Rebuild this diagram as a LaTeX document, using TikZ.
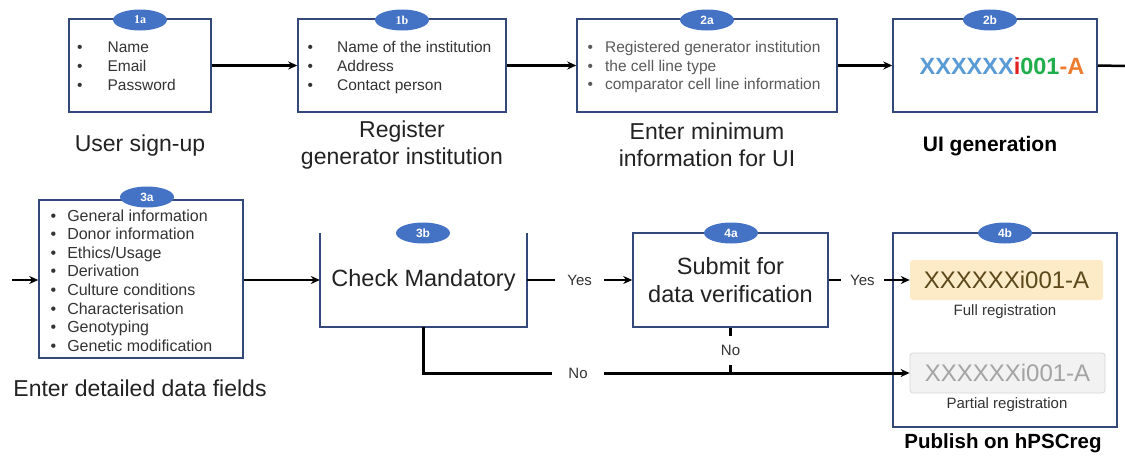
\documentclass[tikz,border=0pt]{standalone}
\usepackage{fontspec}
\setmainfont{Liberation Sans}
\newfontfamily\badgeserif{Liberation Serif}
\usetikzlibrary{shapes.geometric,arrows.meta}

\definecolor{boxline}{HTML}{34497A}
\definecolor{badgeblue}{HTML}{4472C4}
\definecolor{listdark}{HTML}{333333}
\definecolor{listgray}{HTML}{5A5A5A}
\definecolor{titletext}{HTML}{222222}
\definecolor{idblue}{HTML}{5B9BD5}
\definecolor{idred}{HTML}{E0201E}
\definecolor{idgreen}{HTML}{1FAE4B}
\definecolor{idorange}{HTML}{ED7D31}
\definecolor{fullfill}{HTML}{FDEBC8}
\definecolor{fulltext}{HTML}{5C481A}
\definecolor{partfill}{HTML}{F2F2F2}
\definecolor{partline}{HTML}{D6D6D6}
\definecolor{parttext}{HTML}{A3A3A3}

\newcommand{\fsz}[2]{\fontsize{#1}{#2}\selectfont}

\begin{document}
\begin{tikzpicture}[x=1pt,y=-1pt,
  stepbox/.style={draw=boxline, line width=1.5pt, fill=white, inner sep=0pt},
  openbox/.style={draw=none, inner sep=0pt},
  badge/.style={ellipse, fill=badgeblue, draw=none, minimum width=54pt,
    minimum height=21pt, inner sep=0pt, text=white, font=\fsz{12}{12}\bfseries},
  bulletlist/.style={anchor=west, inner sep=0pt, align=left},
  title/.style={text=titletext, align=center, font=\fsz{23}{27}},
  boldtitle/.style={text=black, align=center, font=\fsz{21}{25}\bfseries},
  flow/.style={draw=black, line width=2.5pt, -{Stealth[length=9pt,width=8pt]}},
  plain/.style={draw=black, line width=2.5pt},
  lbl/.style={fill=white, text=listdark, font=\fsz{15}{15}, inner ysep=2pt},
  idbox/.style={rounded corners=3pt, minimum width=193pt, minimum height=40pt,
    inner sep=0pt, font=\fsz{24}{24}},
]
\useasboundingbox (0,0) rectangle (1125,463);
\fill[white] (0,0) rectangle (1125,463);

% ---- first row: boxes ----
\node[stepbox, minimum width=142pt, minimum height=93pt] (b1a) at (140,65.5) {};
\node[stepbox, minimum width=208pt, minimum height=93pt] (b1b) at (402,65.5) {};
\node[stepbox, minimum width=260pt, minimum height=93pt] (b2a) at (707,65.5) {};
\node[stepbox, minimum width=204pt, minimum height=93pt] (b2b) at (995,65.5) {};

% ---- first row: contents ----
\node[bulletlist, text=listdark, font=\fsz{15.5}{19}] (l1a) at (77,67.5)
  {\begin{tabular}{@{}l@{\hspace{25pt}}l@{}}
   \textbullet & Name\\ \textbullet & Email\\ \textbullet & Password
   \end{tabular}};
\node[bulletlist, text=listdark, font=\fsz{15.5}{19}] (l1b) at (307.5,67.5)
  {\begin{tabular}{@{}l@{\hspace{24pt}}l@{}}
   \textbullet & Name of the institution\\ \textbullet & Address\\ \textbullet & Contact person
   \end{tabular}};
\node[bulletlist, text=listgray, font=\fsz{15.5}{18.5}] (l2a) at (587.5,67.5)
  {\begin{tabular}{@{}l@{\hspace{12pt}}l@{}}
   \textbullet & Registered generator institution\\ \textbullet & the cell line type\\
   \textbullet & comparator cell line information
   \end{tabular}};
\node[inner sep=0pt, font=\fsz{23.5}{23.5}\bfseries] (id2b) at (1002,66)
  {\textcolor{idblue}{XXXXXX}\textcolor{idred}{i}\textcolor{idgreen}{001}\textcolor{idorange}{-A}};

% ---- first row: badges ----
\node[badge, font=\fsz{12}{12}\bfseries\badgeserif] (n1a) at (140,20) {1a};
\node[badge, font=\fsz{12}{12}\bfseries\badgeserif] (n1b) at (402,20) {1b};
\node[badge] (n2a) at (707,20) {2a};
\node[badge] (n2b) at (990,20) {2b};

% ---- first row: captions ----
\node[title] (t1a) at (140,146) {User sign-up};
\node[title] (t1b) at (402,145) {Register\\generator institution};
\node[title] (t2a) at (707,145) {Enter minimum\\information for UI};
\node[boldtitle] (t2b) at (990,146) {UI generation};

% ---- second row: boxes ----
\node[openbox, minimum width=207pt, minimum height=94pt, font=\fsz{23.5}{23.5}, text=titletext]
  (b3b) at (423.5,280) {Check Mandatory};
\draw[boxline, line width=1.5pt] (b3b.north west) -- (b3b.south west)
  -- (b3b.south east) -- (b3b.north east);
\node[stepbox, minimum width=204pt, minimum height=158pt] (b3a) at (141,279) {};
\node[stepbox, minimum width=195pt, minimum height=94pt, align=center,
  font=\fsz{23.5}{28}, text=titletext] (b4a) at (730.5,280) {Submit for\\data verification};
\node[stepbox, minimum width=224pt, minimum height=194pt] (b4b) at (1005,330) {};

% ---- second row: contents ----
\node[bulletlist, text=listdark, font=\fsz{16}{18.6}] (l3a) at (50.5,282.5)
  {\begin{tabular}{@{}l@{\hspace{11pt}}l@{}}
   \textbullet & General information\\ \textbullet & Donor information\\
   \textbullet & Ethics/Usage\\ \textbullet & Derivation\\
   \textbullet & Culture conditions\\ \textbullet & Characterisation\\
   \textbullet & Genotyping\\ \textbullet & Genetic modification
   \end{tabular}};
\node[idbox, fill=fullfill, text=fulltext] (full) at (1006.5,280) {XXXXXXi001-A};
\node[text=listdark, font=\fsz{15}{15}, inner sep=0pt] (fullcap) at (1005,312) {Full registration};
\node[idbox, fill=partfill, draw=partline, line width=0.8pt, text=parttext,
  minimum width=195pt] (partial) at (1007.5,373) {XXXXXXi001-A};
\node[text=listdark, font=\fsz{15}{15}, inner sep=0pt] (partcap) at (1007,405) {Partial registration};

% ---- second row: badges ----
\node[badge] (n3a) at (147,197) {3a};
\node[badge] (n3b) at (423,233) {3b};
\node[badge] (n4a) at (731,233) {4a};
\node[badge] (n4b) at (1005,233) {4b};

% ---- second row: captions ----
\node[title] (t3a) at (140,388) {Enter detailed data fields};
\node[boldtitle, font=\fsz{20.5}{24}\bfseries] (t4b) at (1003,443) {Publish on hPSCreg};

% ---- connectors ----
\draw[flow] (b1a.east) -- (b1b.west);
\draw[flow] (b1b.east) -- (b2a.west);
\draw[flow] (b2a.east) -- (b2b.west);
\coordinate (out2b) at (1125,66);
\draw[plain] (b2b.east) -- (out2b);

\coordinate (in3a) at (12,280);
\draw[flow] (in3a) -- (in3a -| b3a.west);
\draw[flow] (b3b.west -| b3a.east) -- (b3b.west);

\draw[flow] (b3b.east) -- node[lbl, inner xsep=12.5pt] (yes1) {Yes} (b4a.west);
\draw[flow] (b4a.east) -- node[lbl, pos=0.415, inner xsep=9.5pt] (yes2) {Yes} (full.west);

\coordinate (nocorner) at (b3b.south |- partial.west);
\draw[flow, line width=3pt] (b3b.south) -- (nocorner)
  -- node[lbl, pos=0.318, inner xsep=16pt] (no1) {No} (partial.west);
\draw[plain] (b4a.south) -- node[lbl, inner ysep=9pt, inner xsep=3pt] (no2) {No} (b4a.south |- nocorner);
\end{tikzpicture}
\end{document}
